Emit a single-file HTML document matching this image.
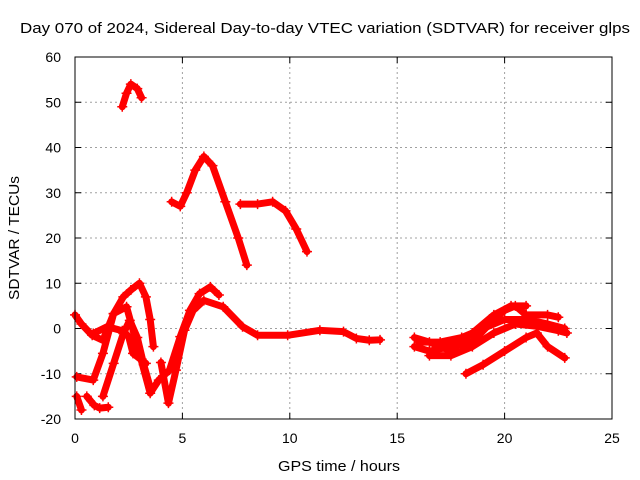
<!DOCTYPE html>
<html><head><meta charset="utf-8"><style>
body{margin:0;background:#fff}
svg{display:block;font-family:"Liberation Sans",sans-serif}
</style></head><body>
<svg id="chart" width="640" height="480">
<rect width="640" height="480" fill="#fff"/>
<text x="20" y="33" font-size="15" textLength="610" lengthAdjust="spacingAndGlyphs">Day 070 of 2024, Sidereal Day-to-day VTEC variation (SDTVAR) for receiver glps</text>
<g id="grid"></g><g id="ticks"></g><g id="series"></g>
<rect x="75" y="57" width="537" height="362" fill="none" stroke="#000" stroke-width="1"/>
<text x="339" y="471" text-anchor="middle" font-size="15" textLength="122" lengthAdjust="spacingAndGlyphs">GPS time / hours</text>
<text transform="translate(19,238) rotate(-90)" text-anchor="middle" font-size="15" textLength="124" lengthAdjust="spacingAndGlyphs">SDTVAR / TECUs</text>
</svg>
<script>
const xTicks=[0,5,10,15,20,25];
const yTicks=[-20,-10,0,10,20,30,40,50,60];
const trackTop=[[2.2,49],[2.4,52],[2.6,54],[2.9,53],[3.1,51]];
const trackB=[[4.5,28],[4.9,27],[5.2,30],[5.6,35],[6.0,38],[6.4,36],[7.0,28],[7.6,20],[8.0,14]];
const trackC=[[7.7,27.5],[8.5,27.5],[9.2,28],[9.8,26],[10.3,22],[10.8,17]];
const trackMain=[[0.0,3],[0.3,1],[0.8,-1.5],[1.3,-2.6],[1.8,3.3],[2.25,7],[2.6,8.5],[3.0,10],[3.3,7],[3.5,2],[3.65,-4]];
const trackD=[[0.08,-10.7],[0.85,-11.4],[1.3,-5.5],[1.8,3.3],[2.4,4.8],[3.0,-5.5],[3.5,-14.3],[3.9,-11.4],[4.4,-9.2],[4.9,-1.8],[5.35,4],[5.8,7.7],[6.3,9.2],[6.7,7.4]];
const trackE=[[4.0,-7.5],[4.35,-16.5],[4.7,-9.2],[5.1,-0.4],[5.5,4],[6.0,6.2],[6.9,4.8],[7.8,0.4],[8.5,-1.5],[9.9,-1.5],[11.4,-0.4],[12.5,-0.7],[13.1,-2.2],[13.7,-2.6],[14.2,-2.5]];
const trackF=[[0.08,-15],[0.3,-18]];
const trackG=[[0.55,-15],[0.9,-17],[1.15,-17.6],[1.55,-17.4]];
const trackH=[[0.85,-1.1],[1.5,0.4],[2.2,-0.5],[2.5,-1.8],[2.7,-5.5],[3.3,-7.7]];
const trackI=[[1.3,-15],[1.8,-7.7],[2.25,-1.1],[2.55,1.8],[2.9,-2],[3.2,-8],[3.5,-13]];
const trackR1=[[15.8,-4],[16.5,-5],[17.5,-4],[18.5,-3],[19.5,2],[20,4],[20.5,5],[21,3],[22,3],[22.5,2.5]];
const trackR2=[[15.8,-2],[16.5,-3],[17.5,-5],[18.5,-1],[19.5,3],[20.3,5],[21,5]];
const trackR3=[[16.5,-6],[17.5,-6],[18.5,-4],[19.5,-1],[20.5,1],[21.5,0.5],[22.5,-0.5],[22.9,-1]];
const trackR4=[[18.2,-10],[19,-8],[20,-5],[21,-2],[21.5,-1],[22,-4],[22.8,-6.5]];
const trackR5=[[16,-3],[17,-3],[18,-2],[19,0],[20,2],[21,2],[22,1],[22.8,0]];
const tracks=[trackTop,trackB,trackC,trackMain,trackD,trackE,trackF,trackG,trackH,trackI,trackR1,trackR2,trackR3,trackR4,trackR5];
const NS="http://www.w3.org/2000/svg";
const X=h=>75+h*537/25, Y=v=>57+(60-v)*362/80;
const grid=document.getElementById('grid'),ticks=document.getElementById('ticks'),ser=document.getElementById('series');
function mk(t,a,p){const e=document.createElementNS(NS,t);for(const k in a)e.setAttribute(k,a[k]);p.appendChild(e);return e;}
xTicks.forEach(t=>{const x=X(t);
 if(t>0&&t<25){const g=mk('line',{x1:x,x2:x,y1:57,y2:419,stroke:'#a0a0a0','stroke-dasharray':'2,3'},grid);
 
 }
 mk('line',{x1:x,x2:x,y1:419,y2:413,stroke:'#000'},ticks);mk('line',{x1:x,x2:x,y1:57,y2:63,stroke:'#000'},ticks);
 const l=mk('text',{x:x,y:443,'text-anchor':'middle','font-size':14},ticks);l.textContent=t;
 
 });
yTicks.forEach(t=>{const y=Y(t);
 if(t>-20&&t<60){const g=mk('line',{x1:75,x2:612,y1:y,y2:y,stroke:'#a0a0a0','stroke-dasharray':'2,3'},grid);
 
 }
 mk('line',{x1:75,x2:81,y1:y,y2:y,stroke:'#000'},ticks);mk('line',{x1:606,x2:612,y1:y,y2:y,stroke:'#000'},ticks);
 const l=mk('text',{x:61,y:y+5,'text-anchor':'end','font-size':14},ticks);l.textContent=t;
 
 });
tracks.forEach((tr,i)=>{
 const p=mk('polyline',{points:tr.map(d=>X(d[0])+','+Y(d[1])).join(' '),fill:'none',stroke:'#f00','stroke-width':7,'stroke-linejoin':'round','stroke-linecap':'round'},ser);
 
 
 tr.forEach(d=>{const x=X(d[0]),y=Y(d[1]);
  const m=mk('path',{d:`M${x-5},${y}h10M${x},${y-5}v10`,stroke:'#f00','stroke-width':1.5},ser);
  
  });
});
</script>
</body></html>
